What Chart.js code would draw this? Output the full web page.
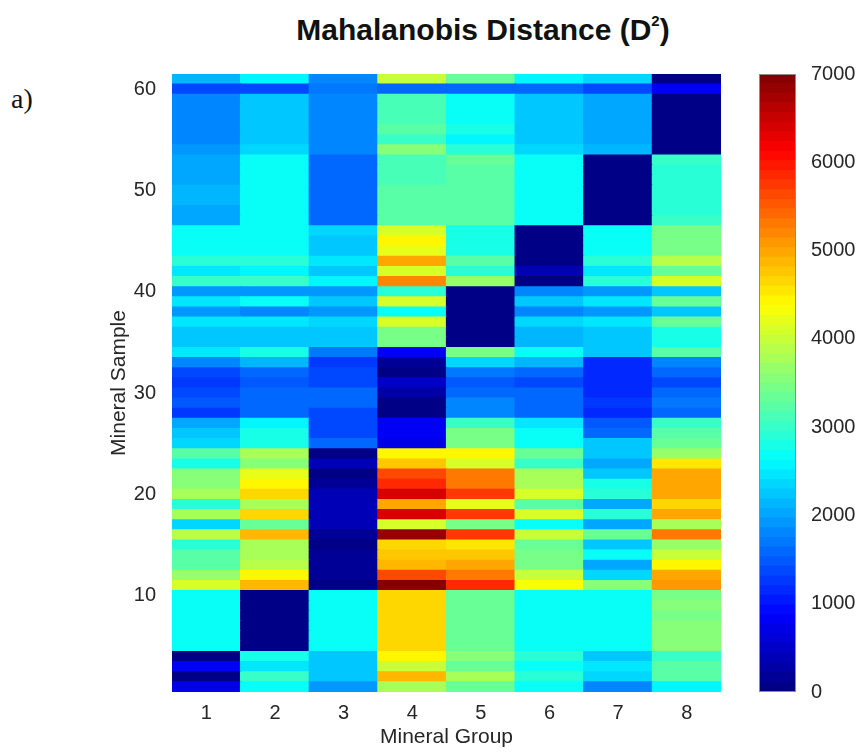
<!DOCTYPE html>
<html>
<head>
<meta charset="utf-8">
<script src="https://cdn.jsdelivr.net/npm/chart.js@4.4.1/dist/chart.umd.min.js"></script>
<style>
  html, body { margin: 0; padding: 0; background: #fff; }
  #wrap { position: relative; width: 857px; height: 752px; overflow: hidden; }
  #heat { position: absolute; left: 0; top: 0; }
  #cbar { position: absolute; left: 740px; top: 0; }
  #title {
    position: absolute; left: 109px; width: 748px; top: 13px;
    text-align: center; font: bold 30px "Liberation Sans", Arial, sans-serif;
    line-height: 34px; color: #111;
  }
  #title sup { font-size: 15px; vertical-align: 14px; line-height: 0; }
  #panel {
    position: absolute; left: 11px; top: 83px;
    font: 28px "Liberation Serif", "Times New Roman", serif; color: #111;
  }
</style>
</head>
<body>
<div id="wrap">
  <div id="title">Mahalanobis Distance (D<sup>2</sup>)</div>
  <div id="panel">a)</div>
  <canvas id="heat" width="740" height="752"></canvas>
  <canvas id="cbar" width="117" height="752"></canvas>
</div>
<script>
// Mineral groups along the x axis
const mineralGroups = ['1', '2', '3', '4', '5', '6', '7', '8'];
// Tick labels
const sampleTicks = [10, 20, 30, 40, 50, 60];
const colorTicks = [0, 1000, 2000, 3000, 4000, 5000, 6000, 7000];
const colorMin = 0;
const colorMax = 7000;

// Mahalanobis distance D² of samples 1..61 to each mineral group
const group1 = [
  700, 50, 780, 50, 2700, 2700, 2650, 2650, 2650, 2650,
  4100, 3650, 3200, 3200, 2950, 3900, 2300, 3800, 2950, 3800,
  3500, 3500, 2800, 3200, 2300, 2250, 2000, 1300, 1450, 1350,
  1300, 1400, 1750, 2500, 2250, 2250, 2500, 1900, 2500, 1950,
  3050, 2500, 2950, 2650, 2650, 2650, 2050, 2050, 2150, 2150,
  2000, 2000, 2050, 1950, 1750, 1830, 1750, 1750, 1750, 1400,
  2100
];
const group2 = [
  2700, 3050, 2500, 2800, 30, 30, 30, 30, 30, 30,
  4850, 4380, 3850, 3800, 3800, 4850, 3300, 4700, 3800, 4650,
  4380, 4250, 3500, 3750, 2800, 2800, 2600, 1550, 1600, 1550,
  1450, 1550, 2100, 2800, 2250, 2250, 2500, 1850, 2650, 1950,
  3050, 2600, 2950, 2720, 2720, 2650, 2650, 2650, 2650, 2650,
  2650, 2650, 2650, 2300, 2200, 2250, 2200, 2200, 2200, 1400,
  2600
];
const group3 = [
  1950, 2200, 2250, 2200, 2650, 2650, 2650, 2650, 2650, 2650,
  100, 200, 200, 200, 100, 200, 420, 350, 350, 350,
  200, 30, 350, 30, 1600, 1400, 1350, 1400, 1550, 1550,
  1400, 1400, 1300, 1650, 2200, 2200, 2300, 1950, 2250, 1950,
  2550, 2200, 2450, 2200, 2200, 2300, 1550, 1550, 1550, 1550,
  1550, 1550, 1550, 1850, 1750, 1750, 1750, 1750, 1750, 1650,
  1850
];
const group4 = [
  3800, 4850, 3950, 4380, 4600, 4600, 4600, 4600, 4600, 4600,
  6900, 5650, 4900, 4750, 4700, 6850, 4150, 6400, 5000, 6400,
  5850, 5600, 4750, 4380, 700, 850, 800, 30, 100, 250,
  480, 100, 150, 850, 3450, 3450, 4150, 2700, 4150, 2950,
  5200, 4150, 4950, 4200, 4380, 4150, 3250, 3250, 3250, 3250,
  3100, 3100, 3100, 3500, 3050, 3250, 3150, 3150, 3150, 1550,
  4000
];
const group5 = [
  3300, 3800, 3300, 3500, 3300, 3300, 3300, 3300, 3300, 3300,
  5900, 5350, 4950, 4750, 4550, 5750, 3450, 5750, 4200, 5750,
  5250, 5250, 4100, 4400, 3450, 3450, 3050, 1750, 1750, 1550,
  1450, 1650, 2400, 3450, 30, 30, 30, 30, 30, 30,
  3650, 2950, 3200, 2800, 2800, 2800, 3250, 3250, 3250, 3250,
  3250, 3250, 3300, 2900, 2550, 2800, 2700, 2700, 2700, 1550,
  3300
];
const group6 = [
  2700, 2950, 2650, 2950, 2650, 2650, 2650, 2650, 2650, 2650,
  4300, 4000, 3450, 3450, 3300, 4000, 2700, 4150, 3200, 4150,
  3800, 3800, 3050, 3300, 2650, 2650, 2450, 1600, 1600, 1550,
  1400, 1550, 2100, 2650, 2150, 2150, 2300, 1850, 2250, 1850,
  50, 350, 50, 50, 50, 50, 2650, 2650, 2650, 2650,
  2650, 2650, 2650, 2300, 2200, 2200, 2200, 2200, 2200, 1550,
  2600
];
const group7 = [
  1850, 2300, 2450, 2250, 2650, 2650, 2650, 2650, 2650, 2650,
  3500, 2400, 2000, 2650, 2200, 3300, 2000, 2950, 2050, 2950,
  2800, 2250, 2000, 2250, 2200, 1550, 1450, 1200, 1300, 1200,
  1200, 1200, 1200, 2200, 2200, 2200, 2500, 1900, 2500, 1900,
  2950, 2450, 2950, 2650, 2650, 2650, 50, 50, 50, 50,
  50, 50, 50, 2100, 2000, 2000, 2000, 2000, 2000, 1400,
  2300
];
const group8 = [
  2550, 3200, 3200, 3050, 3500, 3500, 3500, 3450, 3550, 3450,
  5050, 4950, 4400, 4000, 3650, 5250, 3800, 4950, 4600, 4950,
  4950, 4950, 4500, 3650, 3300, 3200, 3050, 1600, 1650, 1550,
  1400, 1550, 1850, 3200, 2800, 2800, 3300, 2200, 3300, 2200,
  4100, 3300, 3850, 3400, 3400, 3400, 3050, 2950, 2950, 2950,
  2950, 2950, 3050, 50, 50, 50, 50, 50, 50, 800,
  100
];

const groupValues = [group1, group2, group3, group4, group5, group6, group7, group8];
const sampleNumbers = group1.map((_, i) => i + 1);

// 64-level jet colormap
const LEVELS = 64;
function jetLevel(k) {
  const x = (k + 0.5) / LEVELS;
  const c = t => Math.round(255 * Math.min(1, Math.max(0, 1.5 - Math.abs(4 * x - t))));
  return `rgb(${c(3)},${c(2)},${c(1)})`;
}
function jetColor(v) {
  let k = Math.floor((v - colorMin) / (colorMax - colorMin) * LEVELS);
  k = Math.min(LEVELS - 1, Math.max(0, k));
  return jetLevel(k);
}

const textColor = '#262626';
const family = '"Liberation Sans", Arial, sans-serif';
const tickFont = { family, size: 20 };
const labelFont = { family, size: 21 };

// Heat map: one floating-bar dataset per sample row
const heatDatasets = sampleNumbers.map((s, i) => ({
  label: 'Sample ' + s,
  data: mineralGroups.map(() => [s - 0.5, s + 0.5]),
  backgroundColor: groupValues.map(g => jetColor(g[i])),
  borderWidth: 0,
  inflateAmount: 0.6,
  grouped: false,
  barPercentage: 1,
  categoryPercentage: 1
}));

new Chart(document.getElementById('heat'), {
  type: 'bar',
  data: { labels: mineralGroups, datasets: heatDatasets },
  options: {
    responsive: false,
    animation: false,
    layout: { padding: { left: 100, right: 19, top: 74, bottom: 0 } },
    plugins: { legend: { display: false }, tooltip: { enabled: false } },
    scales: {
      x: {
        type: 'category',
        grid: { display: false },
        border: { display: false },
        ticks: { color: textColor, font: tickFont, padding: 1, maxRotation: 0 },
        title: { display: true, text: 'Mineral Group', color: textColor, font: labelFont, padding: { top: 0, bottom: 2 } },
        afterFit: s => { s.height = 60; }
      },
      y: {
        type: 'linear',
        min: 0.5,
        max: sampleNumbers.length + 0.5,
        afterBuildTicks: s => { s.ticks = sampleTicks.map(v => ({ value: v })); },
        grid: { display: false },
        border: { display: false },
        ticks: { color: textColor, font: tickFont, padding: 8 },
        title: { display: true, text: 'Mineral Sample', color: textColor, font: labelFont, padding: { top: 7, bottom: 0 } },
        afterFit: s => { s.width = 72; }
      }
    }
  }
});

// Colour bar: one segment per colormap level
const step = (colorMax - colorMin) / LEVELS;
const cbarDatasets = Array.from({ length: LEVELS }, (_, k) => ({
  data: [[colorMin + k * step, colorMin + (k + 1) * step]],
  backgroundColor: jetLevel(k),
  borderWidth: 0,
  inflateAmount: 0.6,
  grouped: false,
  barPercentage: 1,
  categoryPercentage: 1
}));

const frame = {
  id: 'frame',
  afterDatasetsDraw(chart) {
    const { ctx, chartArea: a } = chart;
    ctx.save();
    ctx.strokeStyle = '#8c8c8c';
    ctx.lineWidth = 1;
    ctx.strokeRect(Math.round(a.left) + 0.5, Math.round(a.top) + 0.5,
      Math.round(a.right - a.left) - 1, Math.round(a.bottom - a.top) - 1);
    ctx.restore();
  }
};

new Chart(document.getElementById('cbar'), {
  type: 'bar',
  data: { labels: ['D²'], datasets: cbarDatasets },
  options: {
    responsive: false,
    animation: false,
    layout: { padding: { left: 19, right: 0, top: 74, bottom: 60 } },
    plugins: { legend: { display: false }, tooltip: { enabled: false } },
    scales: {
      x: { display: false },
      y: {
        position: 'right',
        min: colorMin,
        max: colorMax,
        afterBuildTicks: s => { s.ticks = colorTicks.map(v => ({ value: v })); },
        grid: { display: false },
        border: { display: false },
        ticks: { color: textColor, font: tickFont, padding: 7, callback: v => String(v) },
        afterFit: s => { s.width = 61; }
      }
    }
  },
  plugins: [frame]
});
</script>
</body>
</html>
